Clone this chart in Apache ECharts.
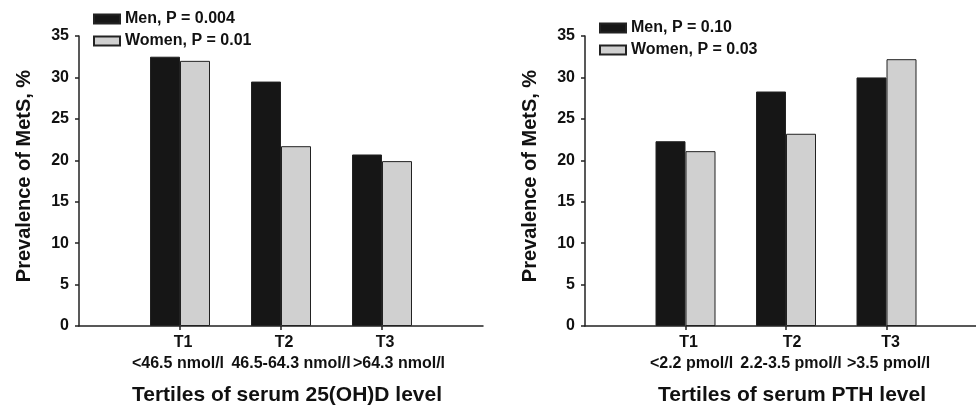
<!DOCTYPE html>
<html>
<head>
<meta charset="utf-8">
<script src="https://cdn.jsdelivr.net/npm/echarts@6/dist/echarts.min.js"></script>
<style>html,body{margin:0;padding:0;background:#fff;}#c{width:976px;height:406px;}</style>
</head>
<body>
<div id="c"></div>
<script>
// Data
const catsLeft = ['', 'T1\n<46.5 nmol/l', 'T2\n46.5-64.3 nmol/l', 'T3\n>64.3 nmol/l', ''];
const catsRight = ['', 'T1\n<2.2 pmol/l', 'T2\n2.2-3.5 pmol/l', 'T3\n>3.5 pmol/l', ''];
const menLeft = [null, 32.5, 29.5, 20.7, null];
const womenLeft = [null, 32.0, 21.7, 19.9, null];
const menRight = [null, 22.3, 28.3, 30.0, null];
const womenRight = [null, 21.1, 23.2, 32.2, null];
const yTicks = [0, 5, 10, 15, 20, 25, 30, 35];
const legendLeft = ['Men, P = 0.004', 'Women, P = 0.01'];
const legendRight = ['Men, P = 0.10', 'Women, P = 0.03'];
const xTitleLeft = 'Tertiles of serum 25(OH)D level';
const xTitleRight = 'Tertiles of serum PTH level';
const yTitle = 'Prevalence of MetS, %';

// Style: horizontal nudges (px) of each category label's two lines
const nudgeLeft = {l1: [0, 3, 3, 3, 0], l2: [0, -2, 10, 17, 0]};
const nudgeRight = {l1: [0, 3, 6, 4, 0], l2: [0, 6, 5, 2, 0]};

const FONT = '"Liberation Sans", Arial, Helvetica, sans-serif';
const AX = '#222';
const chart = echarts.init(document.getElementById('c'), null, {renderer: 'canvas'});

function padFor(d) { return d >= 0 ? [0, 0, 0, 2 * d] : [0, -2 * d, 0, 0]; }

function xAxisDef(idx, cats, title, nudge) {
  const base = {color: '#111', fontFamily: FONT, fontWeight: 'bold', fontSize: 16, lineHeight: 21};
  const rich = {};
  cats.forEach(function (c, i) {
    rich['a' + i] = Object.assign({}, base, {padding: padFor(nudge.l1[i])});
    rich['b' + i] = Object.assign({}, base, {padding: padFor(nudge.l2[i])});
  });
  return {
    type: 'category', gridIndex: idx, data: cats, boundaryGap: false,
    axisLine: {lineStyle: {color: AX, width: 1.5}},
    axisTick: {show: true, length: 4, lineStyle: {color: AX, width: 1.5},
      interval: function (i) { return i > 0 && i < cats.length - 1; }},
    axisLabel: {interval: 0, color: '#111', fontFamily: FONT, fontWeight: 'bold', fontSize: 16, lineHeight: 21, margin: 6,
      rich: rich,
      formatter: function (v, i) {
        if (!v) return '';
        const p = v.split('\n');
        return '{a' + i + '|' + p[0] + '}\n{b' + i + '|' + p[1] + '}';
      }},
    name: title, nameLocation: 'middle', nameGap: 59,
    nameTextStyle: {color: '#111', fontFamily: FONT, fontWeight: 'bold', fontSize: 21, padding: [0, 0, 0, 12]},
    splitLine: {show: false}
  };
}
function yAxisDef(idx) {
  return {
    type: 'value', gridIndex: idx, min: yTicks[0], max: yTicks[yTicks.length - 1], interval: yTicks[1] - yTicks[0],
    axisLine: {show: true, lineStyle: {color: AX, width: 1.5}},
    axisTick: {show: true, length: 4, lineStyle: {color: AX, width: 1.5}},
    axisLabel: {color: '#111', fontFamily: FONT, fontWeight: 'bold', fontSize: 16, margin: 10},
    splitLine: {show: false},
    name: yTitle, nameLocation: 'middle', nameGap: 45,
    nameTextStyle: {color: '#111', fontFamily: FONT, fontWeight: 'bold', fontSize: 20, padding: [0, 0, 0, 10]}
  };
}
function barSeries(name, idx, data, color) {
  return {
    type: 'bar', name: name, xAxisIndex: idx, yAxisIndex: idx, data: data,
    barWidth: 30, barGap: '0%',
    itemStyle: {color: color, borderColor: '#222', borderWidth: 1},
    emphasis: {disabled: true}
  };
}
function legendDef(names, left, top) {
  return {
    data: names.map(function (n) { return {name: n, icon: 'rect'}; }),
    orient: 'vertical', left: left, top: top, itemWidth: 26, itemHeight: 9, itemGap: 6,
    textStyle: {color: '#111', fontFamily: FONT, fontWeight: 'bold', fontSize: 16},
    selectedMode: false
  };
}

chart.setOption({
  animation: false,
  backgroundColor: '#fff',
  grid: [
    {left: 79, width: 404, top: 36, height: 290, outerBoundsMode: 'none', containLabel: false},
    {left: 585, width: 402, top: 36, height: 290, outerBoundsMode: 'none', containLabel: false}
  ],
  legend: [legendDef(legendLeft, 88, 6), legendDef(legendRight, 594, 15)],
  xAxis: [xAxisDef(0, catsLeft, xTitleLeft, nudgeLeft), xAxisDef(1, catsRight, xTitleRight, nudgeRight)],
  yAxis: [yAxisDef(0), yAxisDef(1)],
  series: [
    barSeries(legendLeft[0], 0, menLeft, '#161616'),
    barSeries(legendLeft[1], 0, womenLeft, '#d0d0d0'),
    barSeries(legendRight[0], 1, menRight, '#161616'),
    barSeries(legendRight[1], 1, womenRight, '#d0d0d0')
  ]
});
</script>
</body>
</html>
